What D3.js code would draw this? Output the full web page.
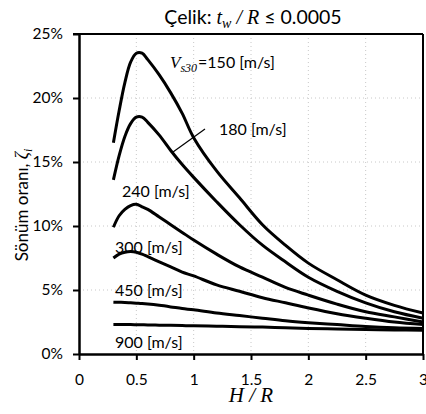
<!DOCTYPE html>
<html>
<head>
<meta charset="utf-8">
<script src="https://cdn.jsdelivr.net/npm/d3@7"></script>
<style>
  html, body { margin: 0; padding: 0; background: #fff; }
  svg { display: block; }
  .sans { font-family: Lato, "Liberation Sans", sans-serif; }
  .serif { font-family: "Liberation Serif", "DejaVu Serif", serif; font-style: italic; }
</style>
</head>
<body>
<svg id="chart" width="426" height="414"></svg>
<script>
// H/R sample points shared by every curve
const hOverR = [0.3, 0.35, 0.4, 0.45, 0.5, 0.55, 0.6, 0.7, 0.8, 0.9, 1.0, 1.2, 1.4, 1.6, 1.8, 2.0, 2.25, 2.5, 2.75, 3.0];

// Damping ratio (%) for each Vs30 value
const vs150 = [16.5, 19.0, 21.2, 22.8, 23.5, 23.5, 23.0, 21.8, 20.4, 18.8, 16.9, 14.3, 12.2, 10.1, 8.5, 7.1, 5.8, 4.6, 3.8, 3.2];
const vs180 = [13.6, 15.5, 17.0, 18.0, 18.5, 18.5, 18.1, 17.1, 15.9, 14.8, 13.8, 11.9, 10.1, 8.5, 7.2, 6.0, 4.9, 4.0, 3.3, 2.8];
const vs240 = [9.9, 10.8, 11.3, 11.6, 11.7, 11.5, 11.3, 10.7, 10.1, 9.5, 8.9, 7.8, 6.8, 6.0, 5.2, 4.6, 3.9, 3.3, 2.9, 2.5];
const vs300 = [7.5, 7.8, 7.95, 8.0, 7.95, 7.8, 7.6, 7.2, 6.8, 6.4, 6.1, 5.4, 4.9, 4.4, 4.0, 3.6, 3.15, 2.8, 2.5, 2.3];
const vs450 = [4.05, 4.04, 4.03, 4.0, 3.97, 3.94, 3.9, 3.8, 3.68, 3.55, 3.45, 3.2, 3.0, 2.8, 2.6, 2.45, 2.3, 2.15, 2.05, 2.0];
const vs900 = [2.3, 2.3, 2.3, 2.3, 2.29, 2.28, 2.27, 2.25, 2.24, 2.22, 2.2, 2.17, 2.13, 2.1, 2.05, 2.0, 1.96, 1.92, 1.88, 1.85];

const seriesValues = [vs150, vs180, vs240, vs300, vs450, vs900];
const curveLabels = ["=150 [m/s]", "180 [m/s]", "240 [m/s]", "300 [m/s]", "450 [m/s]", "900 [m/s]"];

const xTicks = [0, 0.5, 1, 1.5, 2, 2.5, 3];
const xTickLabels = ["0", "0.5", "1", "1.5", "2", "2.5", "3"];
const yTicks = [0, 5, 10, 15, 20, 25];
const yTickLabels = ["0%", "5%", "10%", "15%", "20%", "25%"];

const svg = d3.select("#chart");
const plot = { left: 79, right: 423, top: 34, bottom: 354 };

const x = d3.scaleLinear().domain([0, 3]).range([plot.left, plot.right]);
const y = d3.scaleLinear().domain([0, 25]).range([plot.bottom, plot.top]);

// dotted grid
const grid = svg.append("g");
grid.selectAll("line.gy").data(yTicks.slice(1, -1)).join("line")
  .attr("x1", plot.left).attr("x2", plot.right)
  .attr("y1", d => y(d)).attr("y2", d => y(d))
  .attr("stroke", "#c8c8c8").attr("stroke-width", 1).attr("stroke-dasharray", "1,3");
grid.selectAll("line.gx").data(xTicks.slice(1, -1)).join("line")
  .attr("y1", plot.top).attr("y2", plot.bottom)
  .attr("x1", d => x(d)).attr("x2", d => x(d))
  .attr("stroke", "#c8c8c8").attr("stroke-width", 1).attr("stroke-dasharray", "1,3");

// frame: top and right edges
svg.append("line").attr("x1", plot.left - 6).attr("x2", plot.right)
  .attr("y1", plot.top).attr("y2", plot.top).attr("stroke", "#000").attr("stroke-width", 2);
svg.append("line").attr("x1", plot.right).attr("x2", plot.right)
  .attr("y1", plot.top).attr("y2", plot.bottom).attr("stroke", "#000").attr("stroke-width", 2);

// axes
const xAxis = d3.axisBottom(x).tickValues(xTicks).tickFormat((d, i) => xTickLabels[i])
  .tickSizeInner(6).tickSizeOuter(0).tickPadding(14);
const yAxis = d3.axisLeft(y).tickValues(yTicks).tickFormat((d, i) => yTickLabels[i])
  .tickSizeInner(6).tickSizeOuter(0).tickPadding(10);

const gx = svg.append("g").attr("transform", `translate(0,${plot.bottom})`).call(xAxis);
const gy = svg.append("g").attr("transform", `translate(${plot.left},0)`).call(yAxis);
[gx, gy].forEach(g => {
  g.select(".domain").attr("stroke", "#000").attr("stroke-width", 2.5);
  g.selectAll(".tick line").attr("stroke", "#000").attr("stroke-width", 2);
  g.selectAll(".tick text").attr("class", "sans").attr("font-size", 15.5).attr("fill", "#000");
});

// curves
const line = d3.line()
  .x((d, i) => x(hOverR[i]))
  .y(d => y(d))
  .curve(d3.curveCatmullRom.alpha(0.5));

svg.append("g").selectAll("path").data(seriesValues).join("path")
  .attr("d", d => line(d))
  .attr("fill", "none")
  .attr("stroke", "#000")
  .attr("stroke-width", 3)
  .attr("stroke-linejoin", "round")
  .attr("stroke-linecap", "butt");

// curve labels
const vLabel = svg.append("text").attr("x", 170).attr("y", 68).attr("font-size", 17);
vLabel.append("tspan").attr("class", "serif").text("V");
vLabel.append("tspan").attr("class", "serif").attr("font-size", 12).attr("dy", 4).text("s30");
vLabel.append("tspan").attr("class", "sans").attr("font-size", 16).attr("dy", -4).attr("dx", 1).text(curveLabels[0]);

svg.append("line").attr("x1", 173).attr("y1", 152).attr("x2", 205).attr("y2", 129)
  .attr("stroke", "#000").attr("stroke-width", 1.2);

const labelPos = [null, [219, 135], [122, 197], [115, 253], [115, 296], [115, 348]];
labelPos.forEach((p, i) => {
  if (!p) return;
  svg.append("text").attr("class", "sans").attr("x", p[0]).attr("y", p[1])
    .attr("font-size", 16).attr("fill", "#000").text(curveLabels[i]);
});

// title
const title = svg.append("text").attr("x", 253).attr("y", 24)
  .attr("text-anchor", "middle").attr("font-size", 19.5).attr("class", "sans");
title.append("tspan").text("Çelik: ");
title.append("tspan").attr("class", "serif").attr("font-size", 20).text("t");
title.append("tspan").attr("class", "serif").attr("font-size", 14).attr("dy", 4).text("w");
title.append("tspan").attr("class", "serif").attr("font-size", 20).attr("dy", -4).text(" / R ");
title.append("tspan").text("≤ 0.0005");

// y-axis title
const yTitle = svg.append("text")
  .attr("transform", "translate(28,205) rotate(-90)")
  .attr("text-anchor", "middle").attr("font-size", 17).attr("class", "sans");
yTitle.append("tspan").text("Sönüm oranı, ");
yTitle.append("tspan").attr("class", "serif").attr("font-size", 18).text("ζ");
yTitle.append("tspan").attr("class", "serif").attr("font-size", 12).attr("dy", 4).text("i");

// x-axis title
svg.append("text").attr("class", "serif").attr("x", 251).attr("y", 402)
  .attr("text-anchor", "middle").attr("font-size", 21).text("H / R");
</script>
</body>
</html>
